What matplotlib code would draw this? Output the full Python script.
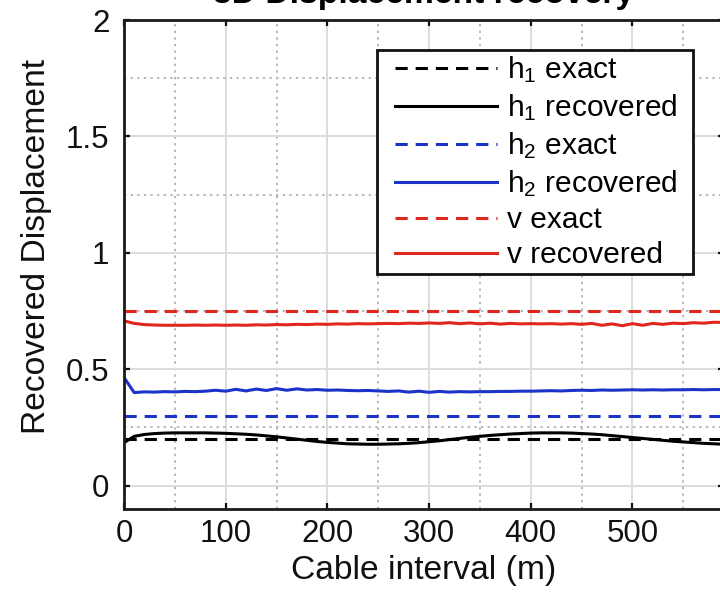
import numpy as np
import matplotlib
matplotlib.use("Agg")
import matplotlib.pyplot as plt
from matplotlib.ticker import MultipleLocator
from matplotlib.lines import Line2D
from matplotlib.legend_handler import HandlerLine2D

plt.rcParams['font.family'] = ['Liberation Sans', 'DejaVu Sans']
plt.rcParams['mathtext.fontset'] = 'custom'
plt.rcParams['mathtext.rm'] = 'Liberation Sans'
plt.rcParams['mathtext.it'] = 'Liberation Sans'

# Sample positions along the cable (m)
distance = np.arange(0, 600, 10)

# Exact displacement amplitudes
h1_exact = 0.2
h2_exact = 0.3
v_exact = 0.75

# Recovered displacement along the cable
h1_recovered = [
    0.185, 0.212, 0.220, 0.224, 0.226, 0.227, 0.227, 0.227, 0.227, 0.226,
    0.225, 0.223, 0.221, 0.218, 0.214, 0.210, 0.205, 0.200, 0.195, 0.190,
    0.186, 0.183, 0.180, 0.179, 0.178, 0.178, 0.179, 0.180, 0.182, 0.185,
    0.189, 0.193, 0.198, 0.203, 0.208, 0.212, 0.216, 0.219, 0.222, 0.224,
    0.226, 0.227, 0.227, 0.227, 0.226, 0.224, 0.222, 0.219, 0.215, 0.211,
    0.207, 0.203, 0.199, 0.195, 0.191, 0.188, 0.185, 0.182, 0.180, 0.178,
]
h2_recovered = [
    0.465, 0.400, 0.403, 0.402, 0.404, 0.403, 0.405, 0.404, 0.406, 0.410,
    0.406, 0.414, 0.407, 0.415, 0.409, 0.417, 0.410, 0.416, 0.411, 0.413,
    0.410, 0.411, 0.409, 0.408, 0.409, 0.407, 0.405, 0.407, 0.402, 0.406,
    0.401, 0.405, 0.402, 0.404, 0.403, 0.404, 0.404, 0.405, 0.405, 0.406,
    0.406, 0.407, 0.408, 0.407, 0.409, 0.410, 0.409, 0.411, 0.410, 0.411,
    0.412, 0.411, 0.412, 0.411, 0.412, 0.412, 0.413, 0.412, 0.413, 0.413,
]
v_recovered = [
    0.708, 0.697, 0.692, 0.690, 0.689, 0.689, 0.689, 0.690, 0.689, 0.690,
    0.689, 0.690, 0.689, 0.691, 0.690, 0.692, 0.691, 0.693, 0.692, 0.694,
    0.693, 0.695, 0.694, 0.696, 0.695, 0.696, 0.697, 0.696, 0.698, 0.697,
    0.699, 0.697, 0.700, 0.696, 0.699, 0.695, 0.698, 0.694, 0.697, 0.695,
    0.696, 0.695, 0.696, 0.694, 0.696, 0.693, 0.697, 0.689, 0.695, 0.687,
    0.696, 0.689, 0.697, 0.693, 0.698, 0.696, 0.700, 0.698, 0.702, 0.701,
]

x_ticks = [0, 100, 200, 300, 400, 500]
y_ticks = [0, 0.5, 1, 1.5, 2]
y_tick_labels = ['0', '0.5', '1', '1.5', '2']

black = '#000000'
blue = '#1b33c9'
red = '#e0261d'
lw = 2.2
dash = (4.0, 2.6)

fig = plt.figure(figsize=(7.2, 5.95), dpi=100)
ax = fig.add_axes([124 / 720, 1 - 509 / 595, 600 / 720, 489 / 595])

const = np.ones(len(distance))
ax.plot(distance, h1_exact * const, color=black, lw=lw, dashes=dash, label=r'h$_1$ exact')
ax.plot(distance, h1_recovered, color=black, lw=lw, label=r'h$_1$ recovered')
ax.plot(distance, h2_exact * const, color=blue, lw=lw, dashes=dash, label=r'h$_2$ exact')
ax.plot(distance, h2_recovered, color=blue, lw=lw, label=r'h$_2$ recovered')
ax.plot(distance, v_exact * const, color=red, lw=lw, dashes=dash, label='v exact')
ax.plot(distance, v_recovered, color=red, lw=lw, label='v recovered')

ax.set_xlim(0, 590)
ax.set_ylim(-0.1, 2)
ax.set_xticks(x_ticks)
ax.set_yticks(y_ticks)
ax.set_yticklabels(y_tick_labels)
ax.xaxis.set_minor_locator(MultipleLocator(50))
ax.yaxis.set_minor_locator(MultipleLocator(0.25))

ax.set_axisbelow(True)
ax.grid(which='major', color='#dcdcdc', lw=1.4, ls='-')
ax.grid(which='minor', color='#b8b8b8', lw=1.4, ls=(0, (1.2, 2.2)))

ax.tick_params(which='major', direction='in', length=4.5, width=1.6,
               top=True, right=True, labelsize=22.5, colors='#111111')
ax.tick_params(axis='x', which='major', pad=7)
ax.tick_params(axis='y', which='major', pad=10.5)
ax.tick_params(which='minor', length=0)
for s in ax.spines.values():
    s.set_linewidth(2.0)
    s.set_color('#1a1a1a')

ax.set_xlabel('Cable interval (m)', fontsize=24.2, color='#111111')
ax.set_ylabel('Recovered Displacement', fontsize=24.2, color='#111111')
ax.xaxis.label.set_va('center')
ax.yaxis.label.set_va('center')
ax.xaxis.set_label_coords(0.5, -0.125)
ax.yaxis.set_label_coords(-0.145, 0.536)

ax.set_title('3D Displacement recovery', fontsize=24.2, fontweight='bold', pad=12)

leg = ax.legend(loc='upper left', bbox_to_anchor=(0.4217, 0.5, 0.5267, 0.4387),
                mode='expand', borderaxespad=0,
                fontsize=21.5, handlelength=3.88, handletextpad=0.33, labelspacing=0.24,
                borderpad=0.15, fancybox=False, framealpha=1, edgecolor='#111111',
                handler_map={Line2D: HandlerLine2D(xpad=0.44)})
leg.get_frame().set_linewidth(2.0)

fig.savefig('out.png', dpi=100)
